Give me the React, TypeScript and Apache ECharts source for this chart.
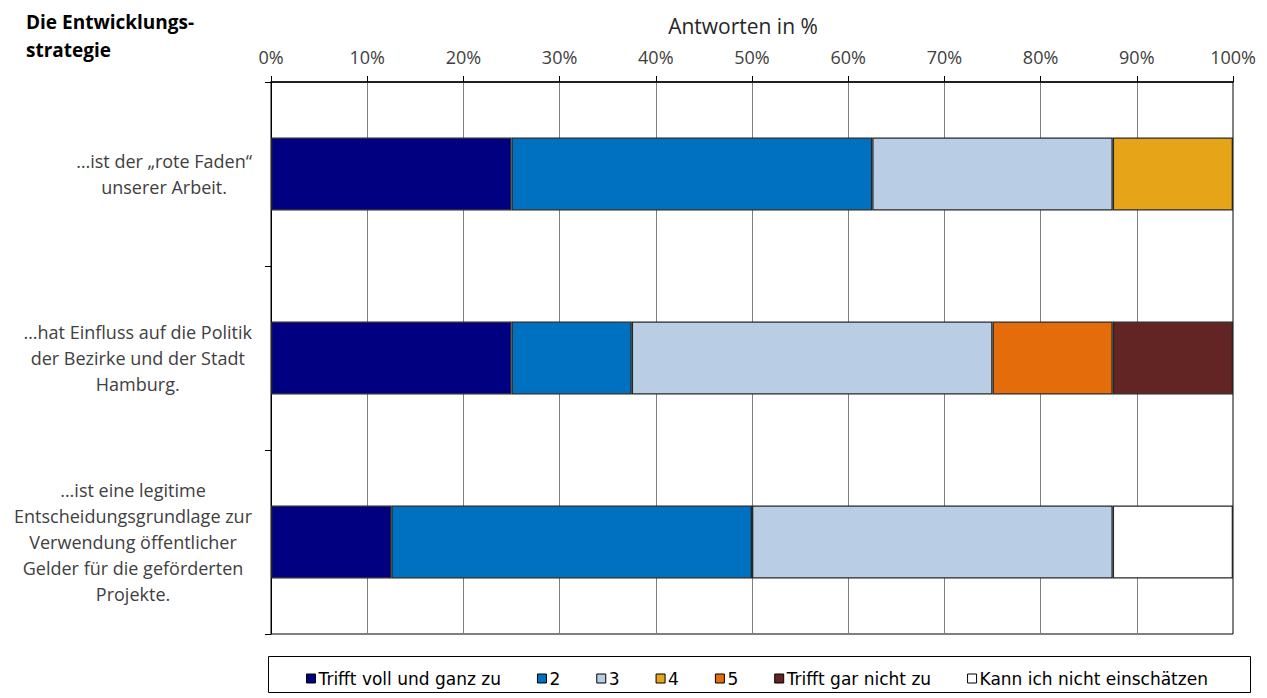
import React, { useEffect, useRef } from "react";
import * as echarts from "echarts";

// Survey statements (y categories, top to bottom)
const categories: string[] = [
  "…ist der „rote Faden“\nunserer Arbeit.",
  "…hat Einfluss auf die Politik\nder Bezirke und der Stadt\nHamburg.",
  "…ist eine legitime\nEntscheidungsgrundlage zur\nVerwendung öffentlicher\nGelder für die geförderten\nProjekte.",
];

// Answer scale (legend order)
const answerNames: string[] = [
  "Trifft voll und ganz zu",
  "2",
  "3",
  "4",
  "5",
  "Trifft gar nicht zu",
  "Kann ich nicht einschätzen",
];

// Share of answers in % per statement
const trifftVoll: number[] = [25, 25, 12.5];
const answer2: number[] = [37.5, 12.5, 37.5];
const answer3: number[] = [25, 37.5, 37.5];
const answer4: number[] = [12.5, 0, 0];
const answer5: number[] = [0, 12.5, 0];
const trifftGarNicht: number[] = [0, 12.5, 0];
const kannNicht: number[] = [0, 0, 12.5];

const answerValues: number[][] = [
  trifftVoll,
  answer2,
  answer3,
  answer4,
  answer5,
  trifftGarNicht,
  kannNicht,
];

const xTicks = { min: 0, max: 100, step: 10 };

const palette: string[] = [
  "#000080",
  "#0070C0",
  "#B9CDE5",
  "#E6A418",
  "#E46C0A",
  "#632523",
  "#FFFFFF",
];

const TEXT_FONT = "'Open Sans', 'Noto Sans', sans-serif";
const LEGEND_FONT = "'DejaVu Sans', sans-serif";

export default function App() {
  const ref = useRef<HTMLDivElement>(null);

  useEffect(() => {
    if (!ref.current) return;
    const chart = echarts.init(ref.current, undefined, { renderer: "svg" });

    const series = answerNames.map((name, i) => ({
      name,
      type: "bar" as const,
      stack: "total",
      barWidth: 73,
      itemStyle: {
        color: palette[i],
        borderColor: "#262626",
        borderWidth: 1.3,
      },
      emphasis: { disabled: true },
      data: answerValues[i].map((v) => (v === 0 ? "-" : v)),
    }));

    chart.setOption({
      animation: false,
      backgroundColor: "#ffffff",
      title: {
        text: "Die Entwicklungs-\nstrategie",
        left: 26,
        top: 8,
        padding: 0,
        textStyle: {
          fontFamily: TEXT_FONT,
          fontWeight: "bold",
          fontSize: 19,
          lineHeight: 28,
          color: "#000000",
        },
      },
      grid: {
        left: 271,
        top: 82,
        width: 962,
        height: 552,
        show: true,
        borderColor: "#000000",
        borderWidth: 1,
        backgroundColor: "transparent",
      },
      xAxis: {
        type: "value",
        position: "top",
        min: xTicks.min,
        max: xTicks.max,
        interval: xTicks.step,
        name: "Antworten in %",
        nameLocation: "middle",
        nameGap: 46,
        nameTextStyle: {
          fontFamily: TEXT_FONT,
          fontSize: 21,
          color: "#262626",
          padding: [0, 18, 0, 0],
        },
        axisLine: { show: true, lineStyle: { color: "#000000", width: 1.5 } },
        axisTick: { show: true, length: 6, lineStyle: { color: "#000000" } },
        axisLabel: {
          formatter: "{value}%",
          margin: 16,
          fontFamily: TEXT_FONT,
          fontSize: 18,
          color: "#404040",
        },
        splitLine: {
          show: true,
          showMinLine: false,
          showMaxLine: false,
          lineStyle: { color: "#808080", width: 1 },
        },
      },
      yAxis: {
        type: "category",
        inverse: true,
        data: categories,
        axisLine: { show: true, lineStyle: { color: "#000000", width: 1 } },
        axisTick: {
          show: true,
          length: 6,
          alignWithLabel: false,
          lineStyle: { color: "#000000" },
        },
        splitLine: { show: false },
        axisLabel: {
          margin: 19,
          align: "right",
          formatter: (value: string) =>
            value
              .split("\n")
              .map((line) => `{c|${line}}`)
              .join("\n"),
          rich: {
            c: {
              align: "center",
              fontFamily: TEXT_FONT,
              fontSize: 18,
              lineHeight: 26,
              color: "#404040",
            },
          },
        },
      },
      legend: {
        data: answerNames,
        left: 306,
        top: 670,
        padding: 0,
        icon: "rect",
        itemWidth: 9,
        itemHeight: 9,
        itemGap: 36,
        selectedMode: false,
        itemStyle: { borderColor: "#000000", borderWidth: 1 },
        textStyle: {
          fontFamily: LEGEND_FONT,
          fontSize: 17,
          color: "#000000",
          padding: [0, 0, 0, -2],
        },
      },
      graphic: [
        {
          type: "rect",
          shape: { x: 268.5, y: 656.5, width: 982, height: 36 },
          style: { fill: "none", stroke: "#000000", lineWidth: 1 },
          silent: true,
        },
      ],
      series,
    });

    return () => {
      chart.dispose();
    };
  }, []);

  return (
    <div
      ref={ref}
      style={{
        position: "absolute",
        left: 0,
        top: 0,
        width: 1267,
        height: 698,
      }}
    />
  );
}
